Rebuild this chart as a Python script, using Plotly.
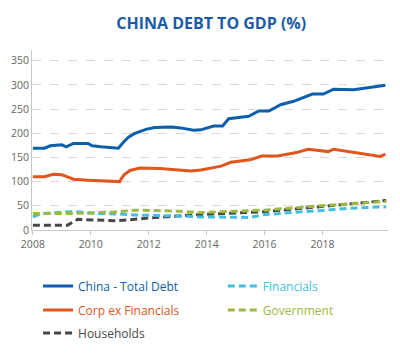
import plotly.graph_objects as go

# ---- data ----
total_x = [2008.0, 2008.4, 2008.6, 2009.0, 2009.15, 2009.4, 2009.9, 2010.05, 2010.35, 2010.8, 2010.95,
           2011.15, 2011.3, 2011.5, 2011.7, 2011.9, 2012.2, 2012.5, 2012.8, 2013.1, 2013.4, 2013.55,
           2013.8, 2014.24, 2014.55, 2014.76, 2015.45, 2015.8, 2016.15, 2016.55, 2017.0, 2017.65,
           2018.03, 2018.38, 2019.07, 2020.17]
total_y = [169, 169, 174, 176, 172, 179, 179, 174, 172, 170, 169,
           183, 192, 199, 204, 208, 212, 213, 213, 211, 207, 206,
           207, 215, 215, 230, 235, 246, 246, 259, 266, 281,
           281, 291, 290, 299]

corp_x = [2008.0, 2008.4, 2008.7, 2009.0, 2009.15, 2009.4, 2009.9, 2010.5, 2011.0, 2011.05, 2011.15,
          2011.35, 2011.7, 2012.4, 2013.0, 2013.45, 2013.8, 2014.5, 2014.83, 2015.5, 2015.9, 2016.45,
          2017.1, 2017.5, 2018.2, 2018.38, 2020.0, 2020.17]
corp_y = [110, 110, 115, 114, 111, 105, 103, 101, 100, 106, 114,
          123, 128, 127, 125, 122, 124, 132, 140, 145, 153, 153,
          160, 167, 162, 167, 152, 157]

fin_x = [2008.0, 2008.3, 2009.4, 2010.3, 2011.0, 2011.5, 2013.0, 2013.8, 2015.5, 2016.0, 2017.9, 2018.9, 2020.2]
fin_y = [27, 34, 38, 34, 33, 31, 29, 27, 26, 32, 40, 45, 48]

gov_x = [2008.0, 2009.2, 2010.8, 2011.5, 2013.0, 2013.8, 2016.0, 2017.9, 2020.2]
gov_y = [34, 34, 37, 41, 39, 36, 41, 50, 59]

hh_x = [2008.0, 2009.2, 2009.55, 2010.9, 2012.07, 2013.8, 2015.0, 2016.0, 2017.9, 2019.0, 2020.2]
hh_y = [10, 10, 22, 19, 25, 32, 35, 38, 48, 54, 61]

x_ticks = [2008, 2010, 2012, 2014, 2016, 2018]
y_ticks = [0, 50, 100, 150, 200, 250, 300, 350]

BLUE = "#0b5fad"
ORANGE = "#e0561c"
LBLUE = "#45bde0"
GREEN = "#9cba3f"
GREY = "#474747"

def nm(t, c):
    return f"<span style='color:{c}'>{t}</span>"

fig = go.Figure()
dash = "7px,4px"
fig.add_trace(go.Scatter(x=hh_x, y=hh_y, mode="lines", name=nm("Households", GREY),
                         line=dict(color=GREY, width=3, dash=dash), legend="legend5", showlegend=True))
fig.add_trace(go.Scatter(x=fin_x, y=fin_y, mode="lines", name=nm("Financials", LBLUE),
                         line=dict(color=LBLUE, width=3, dash=dash), legend="legend2", showlegend=True))
fig.add_trace(go.Scatter(x=gov_x, y=gov_y, mode="lines", name=nm("Government", GREEN),
                         line=dict(color=GREEN, width=3, dash=dash), legend="legend4", showlegend=True))
fig.add_trace(go.Scatter(x=corp_x, y=corp_y, mode="lines", name=nm("Corp ex Financials", ORANGE),
                         line=dict(color=ORANGE, width=3), legend="legend3", showlegend=True))
fig.add_trace(go.Scatter(x=total_x, y=total_y, mode="lines", name=nm("China - Total Debt", BLUE),
                         line=dict(color=BLUE, width=3), legend="legend", showlegend=True))

leg_common = dict(orientation="h", xanchor="left", yanchor="middle", visible=True,
                  font=dict(family="Open Sans", size=12, color="#555"),
                  bgcolor="rgba(0,0,0,0)")
c1, c2 = 0.017, 0.536
r1, r2, r3 = -0.311, -0.444, -0.572

fig.update_layout(
    width=400, height=354,
    showlegend=True,
    margin=dict(l=32, r=12, t=50, b=124, autoexpand=False),
    paper_bgcolor="white", plot_bgcolor="white",
    title=dict(text="<b>CHINA DEBT TO GDP (%)</b>", x=0.528, xanchor="center", y=0.935, yanchor="middle",
               font=dict(family="Open Sans", size=16, color="#1a5ca8")),
    xaxis=dict(range=[2007.97, 2020.26], tickvals=x_ticks, ticktext=[str(v) for v in x_ticks],
               showgrid=False, zeroline=False, showline=True, linecolor="#c8c8c8", linewidth=1,
               ticks="outside", ticklen=4, tickcolor="#c8c8c8",
               tickfont=dict(family="Open Sans", size=10.5, color="#666")),
    yaxis=dict(range=[0, 372], tickvals=y_ticks, showgrid=True, gridcolor="#d9d9d9", griddash="dash",
               gridwidth=1, zeroline=False, showline=True, linecolor="#c8c8c8", linewidth=1,
               ticks="", tickfont=dict(family="Open Sans", size=10.5, color="#666")),
    legend=dict(x=c1, y=r1, **leg_common),
    legend2=dict(x=c2, y=r1, **leg_common),
    legend3=dict(x=c1, y=r2, **leg_common),
    legend4=dict(x=c2, y=r2, **leg_common),
    legend5=dict(x=c1, y=r3, **leg_common),
)

fig.write_html("out.html")
